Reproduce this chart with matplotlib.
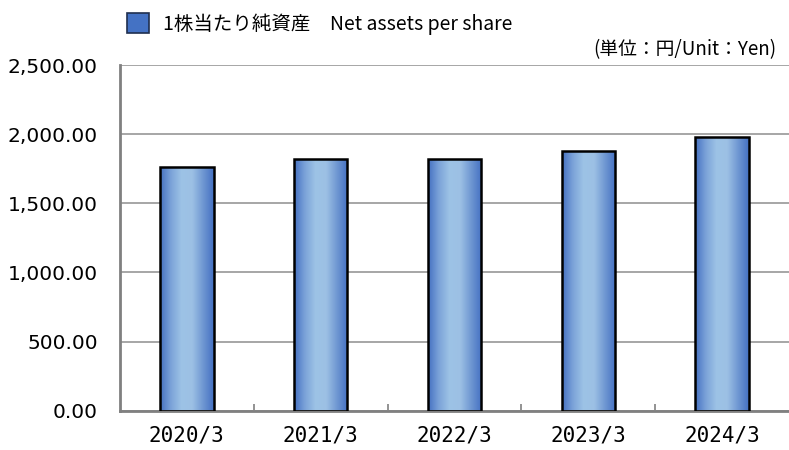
import numpy as np
import matplotlib.pyplot as plt
from matplotlib.colors import LinearSegmentedColormap
from matplotlib.patches import Rectangle

plt.rcParams['font.family'] = ['DejaVu Sans']
JP = ['Noto Sans CJK JP', 'DejaVu Sans']

categories = ["2020/3", "2021/3", "2022/3", "2023/3", "2024/3"]
values = [1760.0, 1823.0, 1819.0, 1881.0, 1982.0]
yticks = [0, 500, 1000, 1500, 2000, 2500]
legend_label = "1株当たり純資産　Net assets per share"
unit_label = "(単位：円/Unit：Yen)"

fig = plt.figure(figsize=(7.89, 4.5), dpi=100)
ax = fig.add_axes([0.152, 0.0873, 0.848, 0.768])

x = np.arange(len(categories))
bars = ax.bar(x, values, width=0.4, color='none', edgecolor='black',
              linewidth=1.8, zorder=3)

# horizontal gradient: dark edges, light centre
grad = LinearSegmentedColormap.from_list(
    "bar", ["#4470c2", "#7ba2d8", "#9dc3e6", "#9cc0e4", "#6f97d2", "#4470c2"])
g = np.linspace(0, 1, 256).reshape(1, -1)
for b in bars:
    bx, by = b.get_x(), b.get_y()
    bw, bh = b.get_width(), b.get_height()
    im = ax.imshow(g, cmap=grad, aspect='auto', zorder=2,
                   extent=[bx, bx + bw, by, by + bh], interpolation='bicubic')
    clip = Rectangle((bx, by), bw, bh, transform=ax.transData)
    im.set_clip_path(clip)

ax.set_xlim(-0.5, len(categories) - 0.5)
ax.set_ylim(0, 2500)
ax.set_yticks(yticks)
ax.set_yticklabels([f"{v:,.2f}" for v in yticks], fontsize=14.5)
ax.yaxis.grid(True, color='#a6a6a6', linewidth=1.4, zorder=1)
ax.tick_params(axis='y', length=0, pad=16)

ax.set_xticks(x)
ax.set_xticklabels(categories, fontsize=15, family='DejaVu Sans Mono')
ax.set_xticks(np.arange(0.5, len(categories) - 0.5, 1), minor=True)
ax.tick_params(axis='x', which='major', length=0, pad=11)
ax.tick_params(axis='x', which='minor', direction='in', length=5,
               color='#808080', width=1.2)

for s in ['top', 'right']:
    ax.spines[s].set_visible(False)
for s in ['left', 'bottom']:
    ax.spines[s].set_color('#808080')
    ax.spines[s].set_linewidth(2)

# legend
fig.patches.append(Rectangle((127 / 789, 1 - 33 / 450), 22 / 789, 20 / 450,
                             transform=fig.transFigure, facecolor='#4472c4',
                             edgecolor='#1f2f4f', linewidth=1.2))
fig.text(163 / 789, 1 - 24 / 450, legend_label, fontsize=14, family=JP,
         va='center', ha='left')
fig.text(776 / 789, 1 - 50 / 450, unit_label, fontsize=13.5, family=JP,
         va='center', ha='right')

fig.savefig("out.png", dpi=100)
